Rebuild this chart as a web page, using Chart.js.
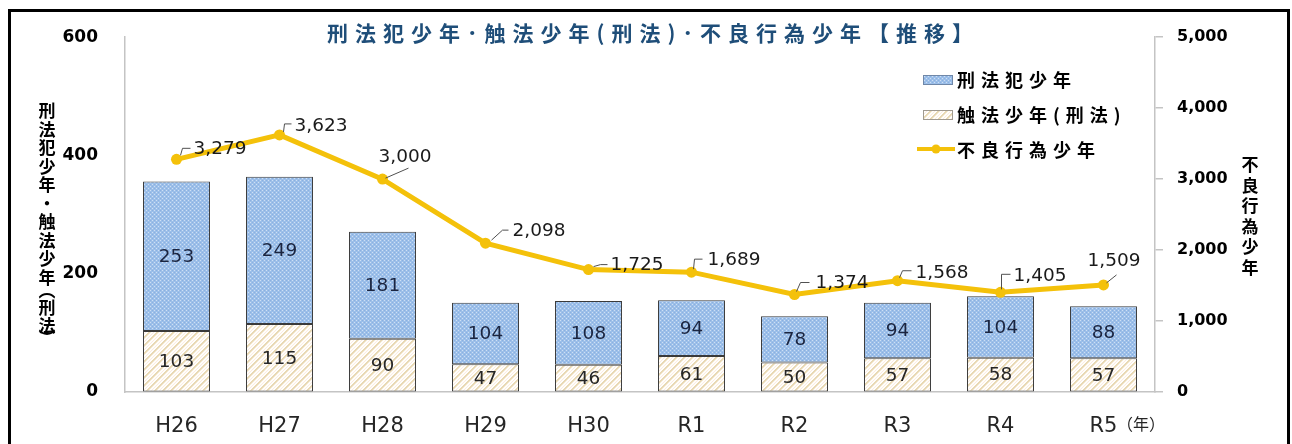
<!DOCTYPE html>
<html><head><meta charset="utf-8">
<script src="https://cdn.jsdelivr.net/npm/chart.js@4.4.1/dist/chart.umd.min.js"></script>
<style>html,body{margin:0;padding:0;background:#fff;}canvas{display:block;}</style>
</head><body><canvas id="c" width="1292" height="444"></canvas>
<script>
// ---- data ----
const categories = ['H26','H27','H28','H29','H30','R1','R2','R3','R4','R5'];
const keihouhanShounen = [253,249,181,104,108,94,78,94,104,88];      // 刑法犯少年
const shokuhouShounen = [103,115,90,47,46,61,50,57,58,57];          // 触法少年（刑法）
const furyouKouiShounen = [3279,3623,3000,2098,1725,1689,1374,1568,1405,1509]; // 不良行為少年
const leftTickStep = 200, leftMax = 600;
const rightTickStep = 1000, rightMax = 5000;
const seriesNames = ['刑法犯少年','触法少年(刑法)','不良行為少年'];
const titleText = '刑法犯少年･触法少年(刑法)･不良行為少年【推移】';
const leftAxisTitle = ['刑','法','犯','少','年','・','触','法','少','年','︵','刑','法','︶'];
const rightAxisTitle = ['不','良','行','為','少','年'];

// ---- styling ----
const GOLD = '#F4C10A';
const CJK = '"Noto Sans CJK JP"';
const LAT = '"DejaVu Sans"';
Chart.defaults.font.family = LAT;

function bluePattern(){
  const c=document.createElement('canvas'); c.width=4; c.height=4;
  const g=c.getContext('2d');
  g.fillStyle='#9CBFE9'; g.fillRect(0,0,4,4);
  g.fillStyle='rgba(255,255,255,0.5)'; g.fillRect(0,0,1,1); g.fillRect(2,2,1,1);
  g.fillStyle='rgba(110,150,210,0.35)'; g.fillRect(2,0,1,1); g.fillRect(0,2,1,1);
  return g.createPattern(c,'repeat');
}
function hatchPattern(){
  const n=8; const c=document.createElement('canvas'); c.width=n; c.height=n;
  const g=c.getContext('2d'); const img=g.createImageData(n,n);
  for(let y=0;y<n;y++)for(let x=0;x<n;x++){
    const k=(x+y)%n; let col;
    if(k===0||k===1) col=[232,216,180];
    else if(k===2) col=[244,233,210];
    else if(k===5) col=[252,236,224];
    else col=[255,254,252];
    const i=(y*n+x)*4; img.data[i]=col[0];img.data[i+1]=col[1];img.data[i+2]=col[2];img.data[i+3]=255;
  }
  g.putImageData(img,0,0);
  return g.createPattern(c,'repeat');
}
const BLUE = bluePattern();
const HATCH = hatchPattern();

// label placement for line values: text left/center offset and leader polyline (relative to point)
const lineLabelPlacement = [
  {dx:17,dy:-11,lead:[[4,-4],[6,-11],[14,-11]]},
  {dx:15,dy:-10,lead:[[4,-3],[5,-11],[12,-11]]},
  {dx:-4,dy:-23,lead:[[3,-1],[26,-11]]},
  {dx:27,dy:-13,lead:[[6,-3],[17,-13],[23,-13]]},
  {dx:22,dy:-5,lead:[[5,-3],[12,-5],[19,-5]]},
  {dx:16,dy:-13,lead:[[2,-3],[3,-13],[11,-13]]},
  {dx:21,dy:-12,lead:[[2,-3],[6,-12],[15,-12]]},
  {dx:18,dy:-9,lead:[[2,-3],[5,-10],[14,-10]]},
  {dx:13,dy:-17,lead:[[1,-3],[1,-18],[10,-18]]},
  {dx:-16,dy:-25,lead:[[3,-2],[13,-10]]}
];

function spaced(ctx,text,x,y,sp,align){
  const chars=[...text];
  const w=chars.map(ch=>ctx.measureText(ch).width);
  const total=w.reduce((a,b)=>a+b,0)+sp*(chars.length-1);
  let cx = align==='center' ? x-total/2 : x;
  ctx.textAlign='left';
  chars.forEach((ch,i)=>{ctx.fillText(ch,cx,y); cx+=w[i]+sp;});
}

const decorPlugin = {
  id:'decor',
  afterDatasetsDraw(chart){
    const ctx=chart.ctx; ctx.save();
    ctx.textBaseline='middle'; ctx.textAlign='center';
    // bar labels
    [1,2].forEach(di=>{
      const meta=chart.getDatasetMeta(di);
      const ds=chart.data.datasets[di];
      ctx.font='18.5px '+LAT;
      ctx.fillStyle = di===2 ? '#1B2540' : '#262626';
      meta.data.forEach((el,i)=>{
        const cy=(el.y+el.base)/2;
        ctx.fillText(String(ds.data[i]), el.x, cy+1);
      });
    });
    // line labels
    const lm=chart.getDatasetMeta(0);
    const lds=chart.data.datasets[0];
    ctx.font='18.5px '+LAT; ctx.textAlign='left';
    lm.data.forEach((pt,i)=>{
      const p=lineLabelPlacement[i];
      ctx.strokeStyle='#505050'; ctx.lineWidth=1;
      ctx.beginPath(); ctx.moveTo(pt.x+p.lead[0][0], pt.y+p.lead[0][1]);
      for(let k=1;k<p.lead.length;k++) ctx.lineTo(pt.x+p.lead[k][0], pt.y+p.lead[k][1]);
      ctx.stroke();
      ctx.fillStyle='#1a1a1a';
      ctx.fillText(lds.data[i].toLocaleString('en-US'), pt.x+p.dx, pt.y+p.dy+1);
    });
    ctx.restore();
  },
  afterDraw(chart){
    const ctx=chart.ctx; ctx.save();
    ctx.textBaseline='middle';
    // title
    ctx.font='bold 21px '+CJK; ctx.fillStyle='#1F4E79';
    spaced(ctx,titleText,650,33,7,'center');
    // left axis title (vertical)
    ctx.font='bold 17px '+CJK; ctx.fillStyle='#000'; ctx.textAlign='center';
    let y=111;
    leftAxisTitle.forEach((ch,i)=>{
      if(i>0){
        if(ch==='︵') y+=13; else if(leftAxisTitle[i-1]==='︵') y+=17; else if(ch==='︶') y+=12; else y+=18.5;
      }
      ctx.fillText(ch,47,y);
    });
    // right axis title
    rightAxisTitle.forEach((ch,i)=>{ ctx.fillText(ch,1250,165+i*20.5); });
    // (年)
    ctx.font='16px '+CJK; ctx.fillStyle='#262626'; ctx.textAlign='left';
    ctx.fillText('（年）',1117,424);
    // legend
    ctx.fillStyle=BLUE; ctx.fillRect(923,75,30,10);
    ctx.strokeStyle='#6f87a8'; ctx.lineWidth=1; ctx.strokeRect(923.5,75.5,29,9);
    ctx.fillStyle=HATCH; ctx.fillRect(923,110,30,10);
    ctx.strokeStyle='#a09a90'; ctx.strokeRect(923.5,110.5,29,9);
    ctx.strokeStyle=GOLD; ctx.lineWidth=4; ctx.beginPath(); ctx.moveTo(917,149); ctx.lineTo(955,149); ctx.stroke();
    ctx.fillStyle=GOLD; ctx.beginPath(); ctx.arc(936,149,4.5,0,Math.PI*2); ctx.fill();
    ctx.font='bold 18px '+CJK; ctx.fillStyle='#000';
    spaced(ctx,seriesNames[0],957,80,6,'left');
    spaced(ctx,seriesNames[1],957,115,6,'left');
    spaced(ctx,seriesNames[2],957,150,6,'left');
    // frame
    ctx.strokeStyle='#000'; ctx.lineWidth=3;
    ctx.beginPath();
    ctx.moveTo(9.5,446); ctx.lineTo(9.5,10.5); ctx.lineTo(1288.5,10.5); ctx.lineTo(1288.5,446);
    ctx.stroke();
    ctx.restore();
  }
};

new Chart(document.getElementById('c').getContext('2d'), {
  type:'bar',
  data:{
    labels:categories,
    datasets:[
      {type:'line', label:seriesNames[2], data:furyouKouiShounen, yAxisID:'y2',
       borderColor:GOLD, backgroundColor:GOLD, borderWidth:5, pointRadius:5.5,
       pointBackgroundColor:GOLD, pointBorderWidth:0, tension:0, order:0},
      {label:seriesNames[1], data:shokuhouShounen, yAxisID:'y', stack:'s',
       backgroundColor:HATCH, borderColor:'#3a3a3a', borderWidth:1, borderSkipped:false,
       categoryPercentage:0.65, barPercentage:1.0, order:1},
      {label:seriesNames[0], data:keihouhanShounen, yAxisID:'y', stack:'s',
       backgroundColor:BLUE, borderColor:'#3a3a3a', borderWidth:1, borderSkipped:false,
       categoryPercentage:0.65, barPercentage:1.0, order:1}
    ]
  },
  options:{
    responsive:false, animation:false, devicePixelRatio:1,
    layout:{padding:{top:33,left:0,right:0,bottom:0}},
    plugins:{legend:{display:false}, tooltip:{enabled:false}, title:{display:false}},
    scales:{
      x:{stacked:true,
         grid:{display:true, drawOnChartArea:false, drawTicks:false},
         border:{display:true, color:'#c4c4c4', width:1.5},
         ticks:{font:{family:LAT,size:21}, color:'#262626', padding:22, maxRotation:0},
         afterFit(s){ s.height=52; }},
      y:{position:'left', stacked:true, min:0, max:leftMax,
         ticks:{stepSize:leftTickStep, font:{family:LAT,size:17,weight:'bold'}, color:'#000', padding:27},
         grid:{display:true, drawOnChartArea:false, drawTicks:false},
         border:{display:true, color:'#c4c4c4', width:1.5},
         afterFit(s){ s.width=125; }},
      y2:{position:'right', min:0, max:rightMax,
         ticks:{stepSize:rightTickStep, font:{family:LAT,size:16,weight:'bold'}, color:'#000', padding:14},
         grid:{display:true, drawOnChartArea:false, drawTicks:true, tickLength:8, color:'#c4c4c4', lineWidth:1.5},
         border:{display:true, color:'#c4c4c4', width:1.5},
         afterFit(s){ s.width=137; }}
    }
  },
  plugins:[decorPlugin]
});
</script>
</body></html>
